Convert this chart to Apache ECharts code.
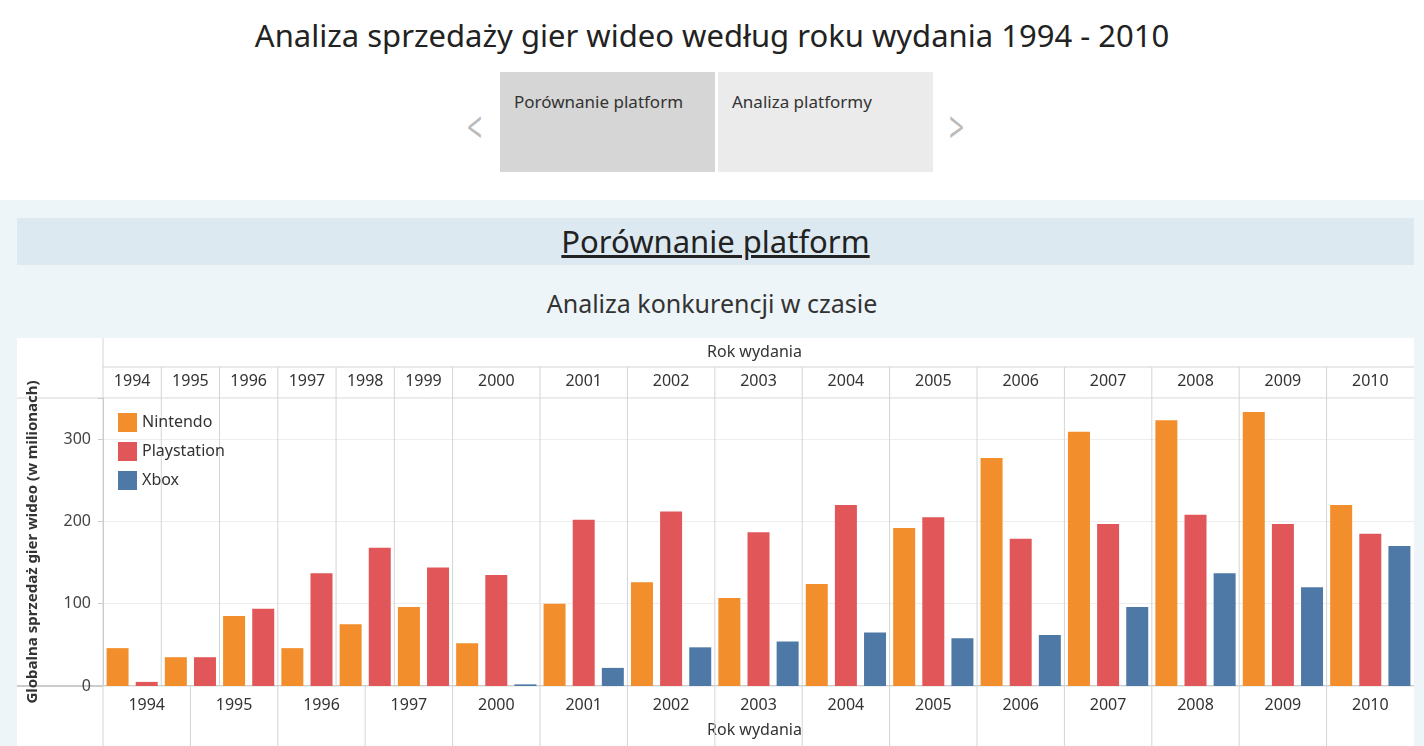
<!DOCTYPE html>
<html><head><meta charset="utf-8">
<script src="https://cdn.jsdelivr.net/npm/echarts@6/dist/echarts.min.js"></script>
<style>
body{margin:0;width:1424px;height:746px;overflow:hidden;background:#fff;font-family:"Noto Sans",sans-serif;position:relative}
.abs{position:absolute}
#title{left:0;width:1424px;top:14px;text-align:center;font-size:31px;color:#222}
.tab{top:72px;height:100px;font-size:17px;color:#333;box-sizing:border-box;padding:18px 14px}
.chev{top:96px;font-size:44px;color:#bbb;transform:scaleX(0.6)}
#dash{left:0;top:200px;width:1424px;height:546px;background:#eef5f8}
#band{left:17px;top:218px;width:1397px;height:47px;background:#dce9f0;text-align:center;font-size:31px;color:#222;text-decoration:underline;line-height:47px}
#sub{left:0;width:1424px;top:286px;text-align:center;font-size:25px;color:#333}
#chart{left:17px;top:338px;width:1397px;height:408px;background:#fff}
</style></head><body>
<div id="title" class="abs">Analiza sprzedaży gier wideo według roku wydania 1994 - 2010</div>
<div class="abs chev" style="left:462px">&lt;</div>
<div class="abs tab" style="left:500px;width:215px;background:#d6d6d6">Porównanie platform</div>
<div class="abs tab" style="left:718px;width:215px;background:#ebebeb">Analiza platformy</div>
<div class="abs chev" style="left:944px">&gt;</div>
<div id="dash" class="abs"></div>
<div id="band" class="abs">Porównanie platform</div>
<div id="sub" class="abs">Analiza konkurencji w czasie</div>
<div id="chart" class="abs"></div>
<script>
var years = ['1994','1995','1996','1997','1998','1999','2000','2001','2002','2003','2004','2005','2006','2007','2008','2009','2010'];
var nintendo    = [46, 35, 85, 46, 75, 96, 52, 100, 126, 107, 124, 192, 277, 309, 323, 333, 220];
var playstation = [5, 35, 94, 137, 168, 144, 135, 202, 212, 187, 220, 205, 179, 197, 208, 197, 185];
var xbox        = [null, null, null, null, null, null, 2, 22, 47, 54, 65, 58, 62, 96, 137, 120, 170];
var bottomLabels = ['1994','1995','1996','1997','2000','2001','2002','2003','2004','2005','2006','2007','2008','2009','2010'];

// each year column is one slot per platform present
var starts = [], widths = [], pos = 0;
years.forEach(function(y, i){
  var w = xbox[i] == null ? 2 : 3;
  starts.push(pos); widths.push(w); pos += w;
});
var total = pos;
function bars(vals, k){
  var out = [];
  vals.forEach(function(v, i){ if (v != null) out.push([starts[i] + k + 0.5, v]); });
  return out;
}
var topCells = years.map(function(y, i){ return [starts[i], widths[i], y]; });
var bottomCells = bottomLabels.map(function(y, i){ return [i * 3, 3, y]; });

function cellRenderer(isTop){
  return function(params, api){
    var cs = params.coordSys;
    var x0 = api.coord([api.value(0), 0])[0];
    var x1 = api.coord([api.value(0) + api.value(1), 0])[0];
    var bottom = cs.y + cs.height;
    var children = [{
      type: 'text',
      style: {text: api.value(2), x: (x0 + x1) / 2, y: isTop ? cs.y - 17 : bottom + 19,
        align: 'center', verticalAlign: 'middle', fill: '#333', font: '16px "Noto Sans"'}
    }];
    if (api.value(0) + api.value(1) < total) {
      children.push({type: 'line', shape: isTop ? {x1: x1, y1: 29, x2: x1, y2: bottom} : {x1: x1, y1: bottom, x2: x1, y2: bottom + 60},
        style: {stroke: '#d4d4d4', lineWidth: 1}});
    }
    return {type: 'group', children: children};
  };
}

var chart = echarts.init(document.getElementById('chart'));
var font = '"Noto Sans", sans-serif';
chart.setOption({
  animation: false,
  textStyle: {fontFamily: font},
  grid: {left: 86, right: 0, top: 60, bottom: 60},
  legend: {
    orient: 'vertical', left: 96, top: 70, itemWidth: 19, itemHeight: 19, itemGap: 10,
    icon: 'rect', textStyle: {fontSize: 16, color: '#333'},
    data: ['Nintendo', 'Playstation', 'Xbox']
  },
  xAxis: {type: 'value', min: 0, max: total, show: false},
  yAxis: {
    type: 'value', min: 0, max: 350, interval: 100,
    name: 'Globalna sprzedaż gier wideo (w milionach)', nameLocation: 'middle', nameGap: 63,
    nameTextStyle: {fontSize: 15, color: '#333', fontWeight: 'bold'},
    axisLabel: {fontSize: 16, color: '#444', margin: 12, formatter: function(v){ return v % 100 === 0 ? v : ''; }},
    axisLine: {show: true, lineStyle: {color: '#ccc'}},
    splitLine: {lineStyle: {color: '#eee'}}
  },
  graphic: [
    {type: 'line', shape: {x1: 86, y1: 29, x2: 1397, y2: 29}, style: {stroke: '#d4d4d4'}},
    {type: 'line', shape: {x1: 0, y1: 60, x2: 1397, y2: 60}, style: {stroke: '#d4d4d4'}},
    {type: 'line', shape: {x1: 0, y1: 348, x2: 1397, y2: 348}, style: {stroke: '#999'}},
    {type: 'line', shape: {x1: 86, y1: 0, x2: 86, y2: 408}, style: {stroke: '#d4d4d4'}},
    {type: 'text', left: 690, top: 6, style: {text: 'Rok wydania', font: '16px "Noto Sans"', fill: '#333'}},
    {type: 'text', left: 690, top: 384, style: {text: 'Rok wydania', font: '16px "Noto Sans"', fill: '#333'}}
  ],
  series: [
    {name: 'Nintendo', type: 'bar', data: bars(nintendo, 0), barWidth: 22, barGap: '-100%', itemStyle: {color: '#f28e2b'}},
    {name: 'Playstation', type: 'bar', data: bars(playstation, 1), barWidth: 22, barGap: '-100%', itemStyle: {color: '#e15759'}},
    {name: 'Xbox', type: 'bar', data: bars(xbox, 2), barWidth: 22, barGap: '-100%', itemStyle: {color: '#4e79a7'}},
    {type: 'custom', data: topCells, renderItem: cellRenderer(true), clip: false, silent: true, z: 1},
    {type: 'custom', data: bottomCells, renderItem: cellRenderer(false), clip: false, silent: true, z: 1}
  ]
});
</script>
</body></html>
